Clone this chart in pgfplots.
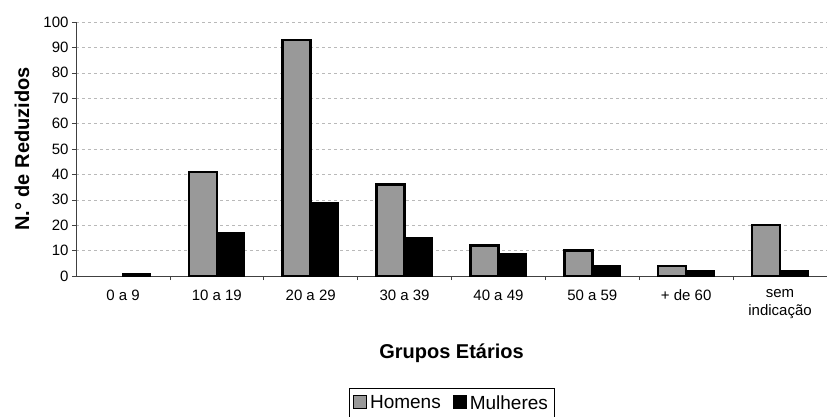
\documentclass[border=0pt]{standalone}
\usepackage{fontspec}
\setmainfont{Liberation Sans}
\usepackage{pgfplots}
\pgfplotsset{compat=1.18}

\definecolor{homens}{gray}{0.6}

\begin{document}
\begin{tikzpicture}
\begin{axis}[
    scale only axis,
    width=751pt, height=254pt,
    anchor=south west, at={(0,0)},
    xmin=-0.5, xmax=7.5,
    ymin=0, ymax=100,
    axis x line=bottom, axis y line=left,
    axis line style={-, black!75, line width=0.8pt},
    ybar=0pt, bar width=28pt,
    ytick={0,10,...,100},
    xtick={0.5,1.5,...,6.5},
    xticklabels={},
    extra x ticks={0,1,2,3,4,5,6,7},
    extra x tick labels={0 a 9,10 a 19,20 a 29,30 a 39,40 a 49,50 a 59,+ de 60,sem\\indicação},
    extra x tick style={major tick length=0pt, grid=none},
    tick align=outside, major tick length=4pt,
    tick style={black!75, line width=0.6pt},
    ymajorgrids, grid style={dashed, gray!55, line width=0.5pt},
    /pgf/number format/assume math mode=true,
    tick label style={font=\fontsize{15}{18}\selectfont},
    x tick label style={align=center, yshift=-10pt},
    xlabel={Grupos Etários},
    ylabel={N.° de Reduzidos},
    label style={font=\fontsize{20}{22}\selectfont\bfseries},
    xlabel style={at={(axis description cs:0.5,0)}, anchor=center, yshift=-77pt},
    ylabel style={at={(axis description cs:0,0.5)}, anchor=center, rotate=0, yshift=54pt},
    legend style={at={(axis description cs:0.5,0)}, anchor=north, yshift=-112pt,
        legend columns=2, draw=black, line width=0.6pt,
        font=\fontsize{19}{21}\selectfont, inner xsep=4pt, inner ysep=5pt,
        /tikz/every odd column/.append style={column sep=1pt},
        /tikz/every even column/.append style={column sep=10pt}},
    legend image code/.code={\draw[#1, line width=1pt] (0pt,-6pt) rectangle (13pt,7pt);},
]
\addplot[fill=homens, draw=black, line width=2.5pt, bar shift=-14pt] coordinates {
    (1,41) (2,93) (3,36) (4,12) (5,10) (6,4) (7,20)
};
\addlegendentry{Homens}
\addplot[fill=black, draw=black, line width=1pt, bar shift=14pt] coordinates {
    (0,1) (1,17) (2,29) (3,15) (4,9) (5,4) (6,2) (7,2)
};
\addlegendentry{Mulheres}
\end{axis}
\pgfresetboundingbox
\path[use as bounding box] (-76pt,-140pt) rectangle (751pt,276pt);
\end{tikzpicture}
\end{document}
